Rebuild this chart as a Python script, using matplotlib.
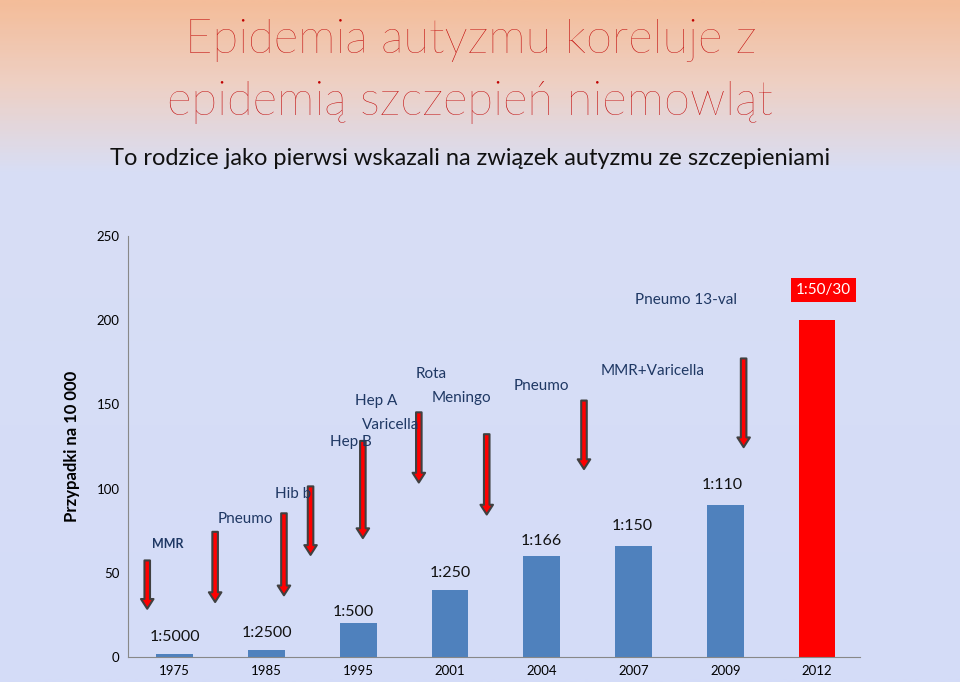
import numpy as np
import matplotlib
matplotlib.use("Agg")
import matplotlib.pyplot as plt
from matplotlib.colors import LinearSegmentedColormap

plt.rcParams["font.family"] = "Lato"

years = ["1975", "1985", "1995", "2001", "2004", "2007", "2009", "2012"]
cases = [2, 4, 20, 40, 60, 66, 90, 200]
ratios = ["1:5000", "1:2500", "1:500", "1:250", "1:166", "1:150", "1:110", "1:50/30"]
bar_colors = ["#4f81bd"] * 7 + ["#ff0000"]

# arrows: x position (category units), top and bottom value
arrow_x = [-0.3, 0.44, 1.19, 1.48, 2.05, 2.66, 3.4, 4.46, 6.2]
arrow_top = [59, 76, 87, 103, 130, 147, 134, 154, 179]
arrow_bot = [27, 31, 35, 59, 69, 102, 83, 110, 123]

# vaccine labels: (text, x, y, bold)
vacc = [("MMR", -0.25, 67, True), ("Pneumo", 0.47, 82, False), ("Hib b", 1.09, 97, False),
        ("Hep A", 1.96, 152, False), ("Varicella", 2.04, 138, False), ("Hep B", 1.69, 128, False),
        ("Rota", 2.63, 168, False), ("Meningo", 2.8, 154, False), ("Pneumo", 3.69, 161, False),
        ("MMR+Varicella", 4.64, 170, False), ("Pneumo 13-val", 5.02, 212, False)]

fig = plt.figure(figsize=(9.6, 6.82), dpi=100)
bg = fig.add_axes([0, 0, 1, 1])
cmap = LinearSegmentedColormap.from_list("bg", [(0, "#f4bd9a"), (0.12, "#eed0c4"), (0.25, "#d8def5"), (1, "#d4dcf8")])
bg.imshow(np.linspace(0, 1, 300)[:, None], aspect="auto", cmap=cmap, extent=[0, 1, 0, 1])
bg.axis("off")

fig.text(0.49, 0.94, "Epidemia autyzmu koreluje z", ha="center", va="center", fontsize=34, color="#c00000", fontweight="light")
fig.text(0.49, 0.85, "epidemią szczepień niemowląt", ha="center", va="center", fontsize=34, color="#c00000", fontweight="light")
fig.text(0.49, 0.767, "To rodzice jako pierwsi wskazali na związek autyzmu ze szczepieniami", ha="center", va="center", fontsize=17, color="#111111")

ax = fig.add_axes([0.1333, 0.0367, 0.7627, 0.617])
ax.patch.set_alpha(0)
x = np.arange(len(years))
ax.bar(x, cases, width=0.4, color=bar_colors)
ax.set_xlim(-0.51, 7.47)
ax.set_ylim(0, 250)
ax.set_yticks(range(0, 251, 50))
ax.set_xticks(x)
ax.set_xticklabels(years)
ax.tick_params(labelsize=9.5, length=0, pad=6)
for s in ["top", "right"]:
    ax.spines[s].set_visible(False)
for s in ["left", "bottom"]:
    ax.spines[s].set_color("#888888")
ax.set_ylabel("Przypadki na 10 000", fontsize=12, fontweight="bold", labelpad=12)

for xi, t, b in zip(arrow_x, arrow_top, arrow_bot):
    ax.annotate("", xy=(xi, b), xytext=(xi, t),
                arrowprops=dict(arrowstyle="simple,head_length=0.7,head_width=0.9,tail_width=0.4",
                                fc="#ff0000", ec="#404040", lw=1.5))

for t, xi, yi, bold in vacc:
    ax.text(xi, yi, t, fontsize=11 if not bold else 9, fontweight="bold" if bold else "normal",
            color="#1f3864", ha="left", va="center")

offs = [10, 10, 7, 10, 9, 12, 12, 0]
xs = [0, 1, 1.95, 3.0, 4.0, 4.99, 5.97, 7.07]
for i, r in enumerate(ratios[:-1]):
    ax.text(xs[i], cases[i] + offs[i], r, fontsize=11.5, ha="center", va="center", color="#111111")
ax.text(xs[7], 218, ratios[7], fontsize=11, ha="center", va="center", color="white",
        bbox=dict(boxstyle="square,pad=0.35", fc="#ff0000", ec="none"))

fig.savefig("out.png", dpi=100)
